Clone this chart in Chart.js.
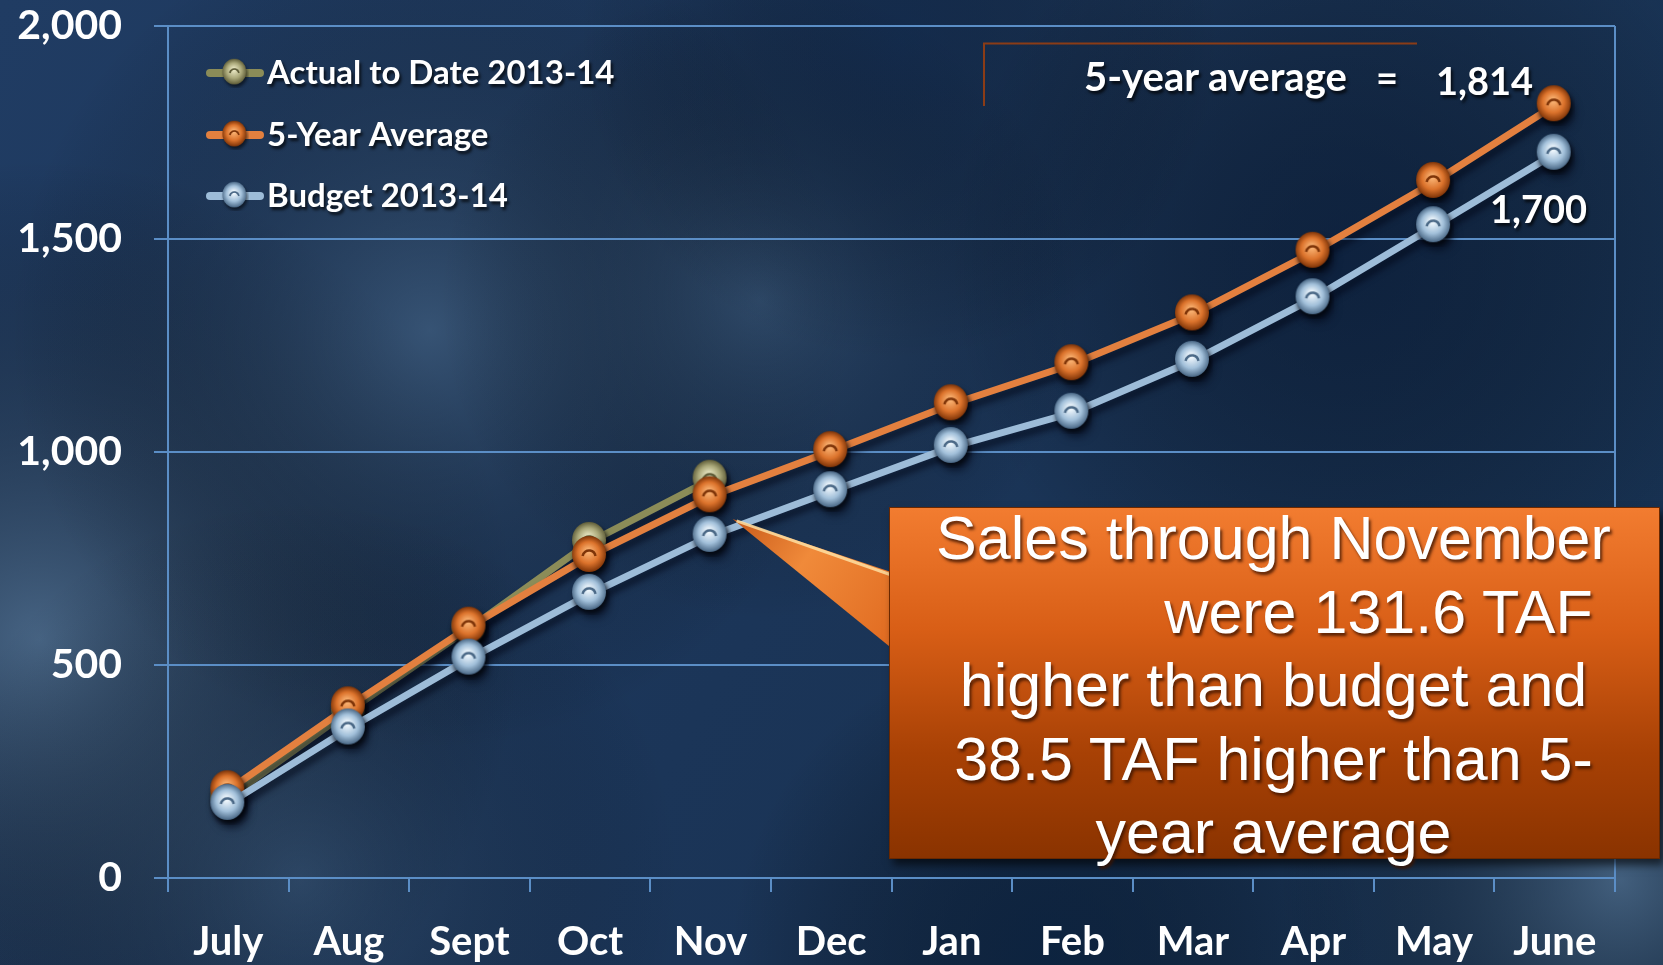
<!DOCTYPE html>
<html>
<head>
<meta charset="utf-8">
<script src="https://cdn.jsdelivr.net/npm/chart.js@4.4.1/dist/chart.umd.min.js"></script>
<style>
  html, body { margin: 0; padding: 0; background: #1c3658; overflow: hidden; }
  #wrap { position: relative; width: 1663px; height: 965px; }
  #salesChart { position: absolute; left: 0; top: 0; }
  .lbl { position: absolute; color: #fff; font-family: Lato, "Open Sans", sans-serif; font-weight: bold;
         text-shadow: 2px 3px 3px rgba(0,0,0,0.7); white-space: pre; line-height: 1; }
  #callout { position: absolute; left: 889px; top: 507px; width: 769px; height: 350px;
             background: linear-gradient(to bottom, #f27c30 0%, #d85e16 35%, #a84105 70%, #8a3300 100%);
             border: 1px solid #6a2800; box-shadow: 4px 6px 8px rgba(0,0,0,0.6); }
  #callText { position: absolute; left: 889px; top: 502px; width: 769px; color: #fff;
              font-family: "Liberation Sans", Arial, sans-serif; font-size: 61px; line-height: 73.5px;
              text-align: center; text-shadow: 2px 3px 3px rgba(60,20,0,0.8); }
  #callText div { white-space: pre; }
</style>
</head>
<body>
<div id="wrap">
  <canvas id="salesChart" width="1663" height="965"></canvas>
  <div id="callout"></div>
  <div id="callText">
    <div>Sales through November</div>
    <div style="padding-left:210px">were 131.6 TAF</div>
    <div>higher than budget and</div>
    <div>38.5 TAF higher than 5-</div>
    <div>year average</div>
  </div>
  <div class="lbl" style="left:1084px; top:56px; font-size:40px;">5-year average</div>
  <div class="lbl" style="left:1376px; top:58px; font-size:38px;">=</div>
  <div class="lbl" style="left:1436px; top:61px; font-size:38px;">1,814</div>
  <div class="lbl" style="left:1490px; top:189px; font-size:38px;">1,700</div>
</div>
<script>
// data
const months = ['July', 'Aug', 'Sept', 'Oct', 'Nov', 'Dec', 'Jan', 'Feb', 'Mar', 'Apr', 'May', 'June'];
const actualToDate = [188, 392, 586, 789, 935, null, null, null, null, null, null, null];
const fiveYearAvg = [206, 403, 590, 756, 896, 1002, 1112, 1206, 1323, 1470, 1634, 1814];
const budget = [174, 351, 515, 667, 803, 908, 1012, 1092, 1214, 1361, 1530, 1700];
const yTicks = [0, 500, 1000, 1500, 2000];

const gridColor = '#5b8ec6';

// shaded sphere used as point marker
function makeBall(light, mid, dark) {
    const c = document.createElement('canvas');
    c.width = 40; c.height = 42;
    const g = c.getContext('2d');
    g.shadowColor = 'rgba(0,0,0,0.55)';
    g.shadowOffsetX = 2; g.shadowOffsetY = 4; g.shadowBlur = 4;
    const rg = g.createRadialGradient(18, 16, 2, 19, 19, 18);
    rg.addColorStop(0, light);
    rg.addColorStop(0.55, mid);
    rg.addColorStop(1, dark);
    g.fillStyle = rg;
    g.beginPath(); g.ellipse(19, 19, 17, 18, 0, 0, Math.PI * 2); g.fill();
    g.shadowColor = 'transparent';
    g.strokeStyle = dark; g.lineWidth = 2.5;
    g.beginPath(); g.arc(19, 22, 6.5, Math.PI * 1.05, Math.PI * 1.95); g.stroke();
    return c;
}
const ballOlive = makeBall('#e6e4c0', '#aaa879', '#5e5c38');
const ballOrange = makeBall('#f8b070', '#dc732c', '#7e3408');
const ballBlue = makeBall('#eef6fc', '#a2c0da', '#4a6886');

const backgroundPlugin = {
    id: 'bg',
    beforeDraw(chart) {
        const { ctx, width, height } = chart;
        ctx.save();
        const lg = ctx.createLinearGradient(0, 0, width, height);
        lg.addColorStop(0, '#203c63');
        lg.addColorStop(0.5, '#1b3558');
        lg.addColorStop(1, '#16304f');
        ctx.fillStyle = lg;
        ctx.fillRect(0, 0, width, height);
        const blob = (x, y, r, col) => {
            const rg = ctx.createRadialGradient(x, y, 0, x, y, r);
            rg.addColorStop(0, col);
            rg.addColorStop(1, 'rgba(0,0,0,0)');
            ctx.fillStyle = rg;
            ctx.fillRect(0, 0, width, height);
        };
        blob(40, 640, 480, 'rgba(85,115,145,0.75)');
        blob(430, 330, 420, 'rgba(75,105,135,0.55)');
        blob(760, 300, 320, 'rgba(70,100,130,0.45)');
        blob(300, 880, 380, 'rgba(70,100,130,0.4)');
        blob(1620, 880, 340, 'rgba(85,115,145,0.7)');
        blob(1350, 260, 400, 'rgba(5,20,45,0.55)');
        blob(1050, 960, 320, 'rgba(5,25,50,0.6)');
        blob(900, 40, 320, 'rgba(10,30,60,0.45)');
        ctx.restore();
    },
    beforeDatasetsDraw(chart) {
        const { ctx, chartArea } = chart;
        // right border of plot area
        ctx.save();
        ctx.strokeStyle = gridColor;
        ctx.lineWidth = 2;
        ctx.beginPath();
        ctx.moveTo(chartArea.right, chartArea.top);
        ctx.lineTo(chartArea.right, chartArea.bottom + 14);
        ctx.stroke();
        // bracket around 5-year average label
        ctx.strokeStyle = '#8b3c16';
        ctx.beginPath();
        ctx.moveTo(984, 106);
        ctx.lineTo(984, 43.5);
        ctx.lineTo(1417, 43.5);
        ctx.stroke();
        // line shadows
        ctx.shadowColor = 'rgba(0,5,20,0.6)';
        ctx.shadowOffsetX = 3;
        ctx.shadowOffsetY = 6;
        ctx.shadowBlur = 6;
    },
    afterDatasetsDraw(chart) {
        const { ctx, scales } = chart;
        ctx.restore();
        // callout pointer toward November budget point
        const tipX = scales.x.getPixelForValue(4) + 22;
        const tipY = scales.y.getPixelForValue(budget[4]) - 17;
        ctx.save();
        const pg = ctx.createLinearGradient(tipX, tipY, 900, 640);
        pg.addColorStop(0, '#c85a1a');
        pg.addColorStop(0.4, '#f08a3a');
        pg.addColorStop(1, '#e06a20');
        ctx.fillStyle = pg;
        ctx.beginPath();
        ctx.moveTo(tipX, tipY);
        ctx.lineTo(900, 575);
        ctx.lineTo(900, 655);
        ctx.closePath();
        ctx.fill();
        ctx.strokeStyle = 'rgba(255,230,170,0.8)';
        ctx.lineWidth = 3;
        ctx.beginPath();
        ctx.moveTo(tipX + 4, tipY + 2);
        ctx.lineTo(900, 578);
        ctx.stroke();
        ctx.restore();
        // legend inside the plot area
        const rows = [73, 135, 196];
        ctx.save();
        chart.data.datasets.forEach((ds, i) => {
            const y = rows[i];
            ctx.strokeStyle = ds.borderColor;
            ctx.lineWidth = 8;
            ctx.lineCap = 'round';
            ctx.beginPath();
            ctx.moveTo(210, y);
            ctx.lineTo(260, y);
            ctx.stroke();
            ctx.drawImage(ds.pointStyle, 235 - 14, y - 15, 28, 30);
            ctx.fillStyle = '#fff';
            ctx.shadowColor = 'rgba(0,0,0,0.7)';
            ctx.shadowOffsetX = 2; ctx.shadowOffsetY = 3; ctx.shadowBlur = 3;
            ctx.font = 'bold 33px Lato';
            ctx.textBaseline = 'middle';
            ctx.fillText(ds.label, 267, y);
            ctx.shadowColor = 'transparent';
        });
        ctx.restore();
    }
};

new Chart(document.getElementById('salesChart'), {
    type: 'line',
    data: {
        labels: months,
        datasets: [
            {
                label: 'Actual to Date 2013-14',
                data: actualToDate,
                borderColor: '#8b8c58',
                borderWidth: 7,
                pointStyle: ballOlive,
                order: 3
            },
            {
                label: '5-Year Average',
                data: fiveYearAvg,
                borderColor: '#e3803f',
                borderWidth: 7,
                pointStyle: ballOrange,
                order: 2
            },
            {
                label: 'Budget 2013-14',
                data: budget,
                borderColor: '#9dbcd8',
                borderWidth: 7,
                pointStyle: ballBlue,
                order: 1
            }
        ]
    },
    options: {
        responsive: false,
        animation: false,
        events: [],
        layout: { padding: { left: 0, top: 26, right: 48, bottom: 0 } },
        elements: { line: { tension: 0 } },
        plugins: { legend: { display: false }, tooltip: { enabled: false } },
        scales: {
            x: {
                offset: true,
                grid: { offset: true, drawOnChartArea: false, color: gridColor, lineWidth: 2, tickLength: 14 },
                border: { color: gridColor, width: 2 },
                ticks: { color: '#fff', font: { family: 'Lato', weight: 'bold', size: 40 }, padding: 26, maxRotation: 0 },
                afterFit(scale) { scale.height = 87; scale.paddingLeft = 0; scale.paddingRight = 0; }
            },
            y: {
                min: 0,
                max: 2000,
                afterBuildTicks(scale) { scale.ticks = yTicks.map(v => ({ value: v })); },
                grid: { color: gridColor, lineWidth: 2, tickLength: 14 },
                border: { color: gridColor, width: 2 },
                ticks: {
                    color: '#fff',
                    font: { family: 'Lato', weight: 'bold', size: 41 },
                    padding: 32,
                    callback: v => v.toLocaleString('en-US')
                },
                afterFit(scale) { scale.width = 168; scale.paddingTop = 0; scale.paddingBottom = 0; }
            }
        }
    },
    plugins: [backgroundPlugin]
});
</script>
</body>
</html>
